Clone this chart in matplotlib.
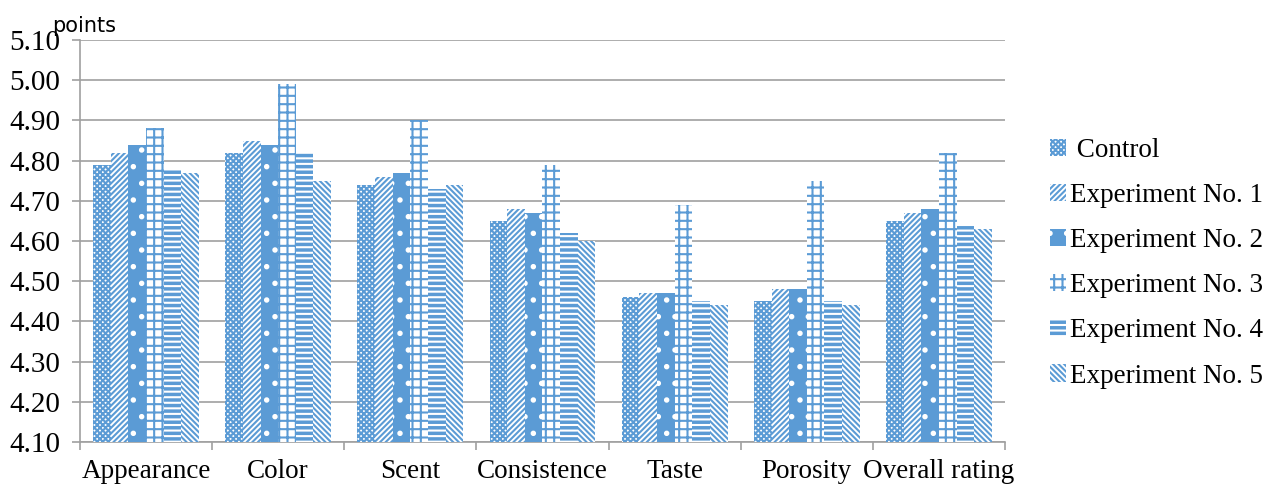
import matplotlib

matplotlib.use("Agg")
import matplotlib.pyplot as plt
import numpy as np

# Categories and series values
categories = ["Appearance", "Color", "Scent", "Consistence", "Taste", "Porosity", "Overall rating"]
series_names = [" Control", "Experiment No. 1", "Experiment No. 2",
                "Experiment No. 3", "Experiment No. 4", "Experiment No. 5"]
control = [4.79, 4.82, 4.74, 4.65, 4.46, 4.45, 4.65]
exp1 = [4.82, 4.85, 4.76, 4.68, 4.47, 4.48, 4.67]
exp2 = [4.84, 4.84, 4.77, 4.67, 4.47, 4.48, 4.68]
exp3 = [4.88, 4.99, 4.90, 4.79, 4.69, 4.75, 4.82]
exp4 = [4.78, 4.82, 4.73, 4.62, 4.45, 4.45, 4.64]
exp5 = [4.77, 4.75, 4.74, 4.60, 4.44, 4.44, 4.63]
y_ticks = [4.10, 4.20, 4.30, 4.40, 4.50, 4.60, 4.70, 4.80, 4.90, 5.00, 5.10]

BLUE = "#5B9BD5"

# (facecolor, hatch colour, hatch)
styles = [
    ("white", BLUE, "xxxxxx"),
    ("white", BLUE, "//////"),
    (BLUE, "white", "."),
    ("white", BLUE, "++"),
    (BLUE, "white", "---"),
    ("white", BLUE, "\\\\\\\\\\\\"),
]

plt.rcParams["font.family"] = ["Liberation Serif", "DejaVu Serif"]
plt.rcParams["hatch.linewidth"] = 1.5

fig = plt.figure(figsize=(12.65, 4.86), dpi=100)
ax = fig.add_axes([0.0632, 0.0905, 0.7313, 0.8272])

x = np.arange(len(categories))
n = len(series_names)
width = 0.8 / n
all_values = [control, exp1, exp2, exp3, exp4, exp5]
handles = []
for i, (name, vals) in enumerate(zip(series_names, all_values)):
    face, hcol, hatch = styles[i]
    offs = (i - (n - 1) / 2) * width
    bars = ax.bar(x + offs, np.array(vals) - 4.10, width, bottom=4.10,
                  facecolor=face, edgecolor=hcol, hatch=hatch, linewidth=0,
                  label=name, zorder=3)
    handles.append(bars)

ax.set_xlim(-0.5, len(categories) - 0.5)
ax.set_ylim(4.10, 5.10)
ax.set_yticks(y_ticks)
ax.set_yticklabels([f"{v:.2f}" for v in y_ticks], fontsize=21)
ax.yaxis.grid(True, color="#A0A0A0", linewidth=1.2, zorder=0)
ax.set_axisbelow(True)

ax.set_xticks(x)
ax.set_xticklabels(categories, fontsize=19.5)
ax.set_xticks(np.arange(len(categories) + 1) - 0.5, minor=True)
ax.tick_params(axis="x", which="major", length=0, pad=12)
ax.tick_params(axis="x", which="minor", length=6, color="#A0A0A0", width=1.2)
ax.tick_params(axis="y", length=6, color="#A0A0A0", width=1.2, pad=8)

for side in ["top", "right"]:
    ax.spines[side].set_visible(False)
for side in ["left", "bottom"]:
    ax.spines[side].set_color("#A0A0A0")
    ax.spines[side].set_linewidth(1.2)

fig.text(0.041, 0.925, "points", fontsize=15, family="DejaVu Sans", ha="left", va="bottom")

fig.legend(handles=handles, labels=series_names, loc="center left",
           bbox_to_anchor=(0.830, 0.458), frameon=False, fontsize=19.5,
           handlelength=0.6, handleheight=0.6, handletextpad=0.15, labelspacing=0.74,
           borderpad=0, borderaxespad=0)

fig.savefig("out.png", dpi=100, facecolor="white")
